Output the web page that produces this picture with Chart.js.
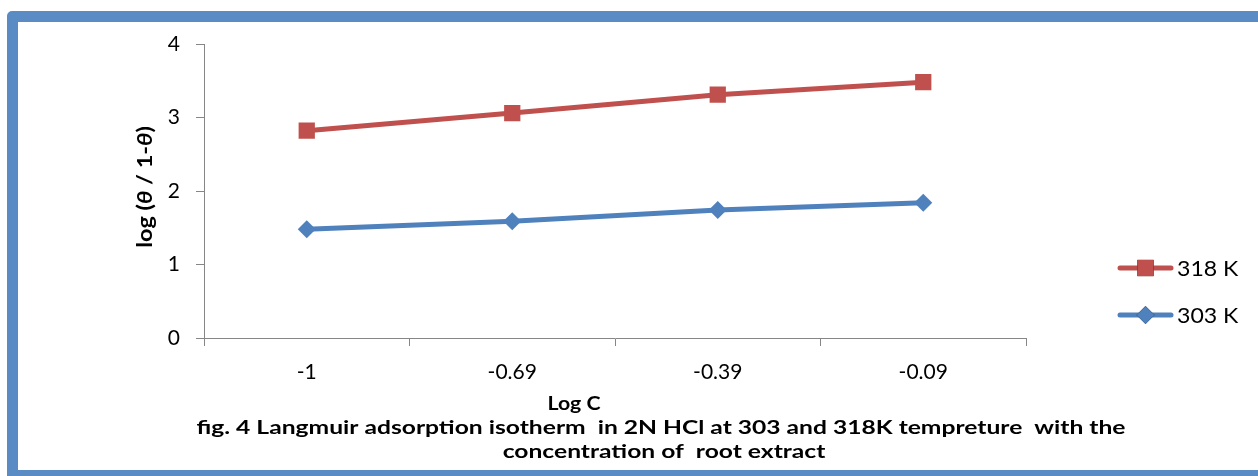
<!DOCTYPE html>
<html>
<head>
<meta charset="utf-8">
<script src="https://cdn.jsdelivr.net/npm/chart.js@4.4.1/dist/chart.umd.min.js"></script>
<style>
html, body { margin: 0; padding: 0; background: #fff; overflow: hidden; }
#wrap { position: relative; width: 1258px; height: 476px; overflow: hidden; }
#frame {
    position: absolute; left: 7px; top: 11px; width: 1300px; height: 470px;
    box-sizing: border-box; border: 11px solid #5b8bc5; border-radius: 5px;
}
canvas { position: absolute; left: 0; top: 0; }
</style>
</head>
<body>
<div id="wrap">
    <div id="frame"></div>
    <canvas id="chart" width="1258" height="476"></canvas>
</div>
<script>
// Data
const logC = ['-1', '-0.69', '-0.39', '-0.09'];
const series318 = [2.82, 3.06, 3.31, 3.48];
const series303 = [1.48, 1.59, 1.74, 1.84];
const yTicks = [0, 1, 2, 3, 4];

const RED = '#c0504d';
const BLUE = '#4f81bd';
const AXIS = '#868686';
const FONT = 'Lato, "Open Sans", sans-serif';

const captionLines = [
    'fig. 4 Langmuir adsorption isotherm  in 2N HCl at 303 and 318K tempreture  with the',
    'concentration of  root extract'
];

// draw text stretched horizontally (the original uses a wide Calibri)
function stretchText(ctx, text, cx, cy, sx) {
    ctx.save();
    ctx.translate(cx, cy);
    ctx.scale(sx, 1);
    ctx.fillText(text, 0, 0);
    ctx.restore();
}

// Axis titles, caption and legend drawn by hand (Excel style)
const decorations = {
    id: 'decorations',
    afterDraw(chart) {
        const ctx = chart.ctx;
        ctx.save();
        ctx.fillStyle = '#000';

        // y title: log (θ / 1-θ), θ in italic
        const parts = [
            ['log (', false], ['θ', true], [' / 1-', false], ['θ', true], [')', false]
        ];
        const fontFor = it => (it ? 'italic ' : '') + 'bold 21px ' + FONT;
        let total = 0;
        parts.forEach(p => { ctx.font = fontFor(p[1]); total += ctx.measureText(p[0]).width; });
        ctx.translate(145, 187);
        ctx.rotate(-Math.PI / 2);
        ctx.scale(1.12, 1);
        ctx.textBaseline = 'middle';
        ctx.textAlign = 'left';
        let x = -total / 2;
        parts.forEach(p => {
            ctx.font = fontFor(p[1]);
            ctx.fillText(p[0], x, 0);
            x += ctx.measureText(p[0]).width;
        });
        ctx.setTransform(1, 0, 0, 1, 0, 0);

        // x title
        ctx.textAlign = 'center';
        ctx.textBaseline = 'middle';
        ctx.font = 'bold 19px ' + FONT;
        stretchText(ctx, 'Log C', 574, 404, 1.12);

        // caption, fitted to the original line width
        const sx = 929 / ctx.measureText(captionLines[0]).width;
        stretchText(ctx, captionLines[0], 661, 428, sx);
        stretchText(ctx, captionLines[1], 664, 452, sx);

        // legend
        const entries = [
            { label: '318 K', color: RED, style: 'rect', radius: 11.5, y: 268 },
            { label: '303 K', color: BLUE, style: 'rectRot', radius: 9, y: 315 }
        ];
        ctx.textAlign = 'left';
        ctx.font = '22px ' + FONT;
        entries.forEach(e => {
            ctx.strokeStyle = e.color;
            ctx.lineWidth = 5;
            ctx.lineCap = 'round';
            ctx.beginPath();
            ctx.moveTo(1120, e.y);
            ctx.lineTo(1171, e.y);
            ctx.stroke();
            Chart.helpers.drawPoint(ctx, {
                pointStyle: e.style, radius: e.radius, rotation: 0, borderWidth: 0
            }, 1145.5, e.y);
            ctx.fillStyle = e.color;
            ctx.fill();
            ctx.fillStyle = '#000';
            stretchText(ctx, e.label, 1177, e.y + 1, 1.05);
        });
        ctx.restore();
    }
};

new Chart(document.getElementById('chart'), {
    type: 'line',
    data: {
        labels: logC,
        datasets: [
            {
                label: '318 K',
                data: series318,
                borderColor: RED,
                backgroundColor: RED,
                borderWidth: 5,
                pointStyle: 'rect',
                pointRadius: 11.5,
                pointBorderWidth: 0,
                tension: 0
            },
            {
                label: '303 K',
                data: series303,
                borderColor: BLUE,
                backgroundColor: BLUE,
                borderWidth: 5,
                pointStyle: 'rectRot',
                pointRadius: 9,
                pointBorderWidth: 0,
                tension: 0
            }
        ]
    },
    options: {
        responsive: false,
        animation: false,
        layout: { padding: { top: 44, right: 232, left: 0, bottom: 0 } },
        plugins: {
            legend: { display: false },
            tooltip: { enabled: false }
        },
        scales: {
            x: {
                offset: true,
                afterFit(scale) { scale.height = 138; },
                grid: {
                    offset: true,
                    drawOnChartArea: false,
                    drawTicks: true,
                    tickLength: 8,
                    color: AXIS
                },
                border: { color: AXIS, width: 1 },
                ticks: { color: '#000', font: { family: FONT, size: 21 }, padding: 14 }
            },
            y: {
                min: yTicks[0],
                max: yTicks[yTicks.length - 1],
                afterFit(scale) { scale.width = 204; },
                afterBuildTicks(scale) { scale.ticks = yTicks.map(v => ({ value: v })); },
                grid: {
                    drawOnChartArea: false,
                    drawTicks: true,
                    tickLength: 8,
                    color: AXIS
                },
                border: { color: AXIS, width: 1 },
                ticks: { color: '#000', font: { family: FONT, size: 21 }, padding: 16 }
            }
        }
    },
    plugins: [decorations]
});
</script>
</body>
</html>
